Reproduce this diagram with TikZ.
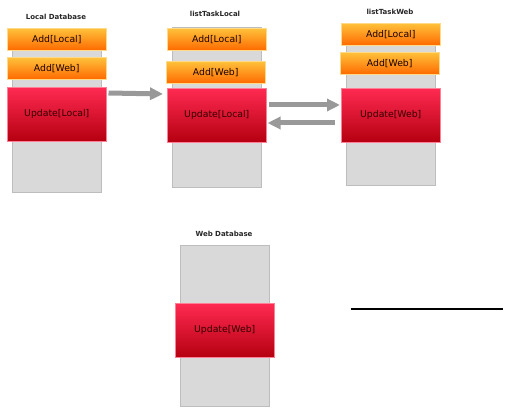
\documentclass[tikz,border=0pt]{standalone}
\usepackage{fontspec}
\setmainfont{DejaVu Sans}
\usetikzlibrary{arrows.meta}

\definecolor{addtop}{HTML}{FFC23A}
\definecolor{addbot}{HTML}{FF6A00}
\definecolor{updtop}{HTML}{FF2A52}
\definecolor{updbot}{HTML}{B50010}
\definecolor{dbfill}{HTML}{D9D9D9}
\definecolor{dbline}{HTML}{BDBDBD}
\definecolor{arrowgray}{HTML}{999999}

\tikzset{
  dbbox/.style={draw=dbline, fill=dbfill, line width=0.8pt, inner sep=0pt,
    minimum width=89pt, anchor=north west},
  addbox/.style={draw=addtop!60!white, top color=addtop, bottom color=addbot,
    line width=0.5pt, inner sep=0pt, minimum width=99pt, minimum height=22pt,
    anchor=north west, font=\fontsize{9.3}{11}\selectfont, text=black!90!red},
  updbox/.style={draw=updtop!60!white, top color=updtop, bottom color=updbot,
    line width=0.5pt, inner sep=0pt, minimum width=99pt, minimum height=54pt,
    anchor=north west, font=\fontsize{9.3}{11}\selectfont, text=black!80!red},
  title/.style={font=\bfseries\fontsize{7}{8}\selectfont, text=black!85},
  bigarrow/.style={draw=arrowgray, line width=5pt,
    -{Triangle[length=13pt, width=12pt]}}
}

\begin{document}
\begin{tikzpicture}[x=1pt, y=-1pt]
    \useasboundingbox (0, 0) rectangle (512, 414);

    % Local Database
    \node[title] (localtitle) at (56, 17) {Local Database};
    \node[dbbox, minimum height=162pt] (localdb) at (12, 30) {};
    \node[addbox] (addlocalA) at (7, 28) {Add[Local]};
    \node[addbox] (addwebA) at (7, 57) {Add[Web]};
    \node[updbox] (updA) at (7, 87) {Update[Local]};

    % listTaskLocal
    \node[title] (tasklocaltitle) at (215, 14) {listTaskLocal};
    \node[dbbox, minimum height=160pt] (tasklocal) at (172, 27) {};
    \node[addbox] (addlocalB) at (167, 28) {Add[Local]};
    \node[addbox] (addwebB) at (166, 61) {Add[Web]};
    \node[updbox] (updB) at (167, 88) {Update[Local]};

    % listTaskWeb
    \node[title] (taskwebtitle) at (390, 12) {listTaskWeb};
    \node[dbbox, minimum height=157pt] (taskweb) at (346, 28) {};
    \node[addbox] (addlocalC) at (341, 23) {Add[Local]};
    \node[addbox] (addwebC) at (340, 52) {Add[Web]};
    \node[updbox] (updC) at (341, 88) {Update[Web]};

    % Web Database
    \node[title] (webtitle) at (224, 234) {Web Database};
    \node[dbbox, minimum height=161pt] (webdb) at (180, 245) {};
    \node[updbox] (updD) at (175, 303) {Update[Web]};

    % Arrows between the lists
    \draw[bigarrow] ([shift={(2, 6)}]updA.north east)
      -- ([shift={(-4, 6)}]updB.north west);
    \draw[bigarrow] ([shift={(2, 17)}]updB.north east)
      -- ([shift={(-1, 17)}]updC.north west);
    \draw[bigarrow] ([shift={(-6, 35)}]updC.north west)
      -- ([shift={(1, 35)}]updB.north east);

    % Separator line
    \coordinate (lineL) at (351, 309);
    \coordinate (lineR) at (503, 309);
    \draw[line width=2pt] (lineL) -- (lineR);
\end{tikzpicture}
\end{document}
